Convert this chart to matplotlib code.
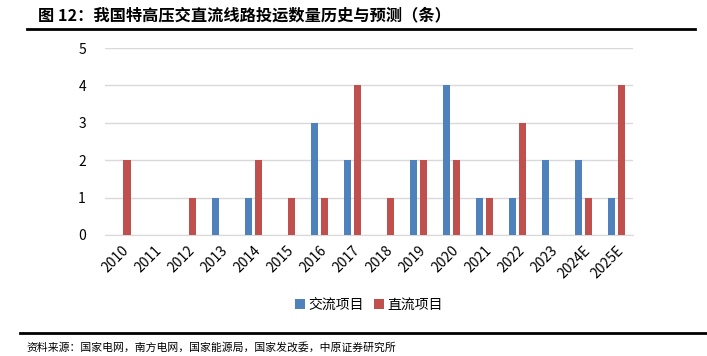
import matplotlib
matplotlib.use("Agg")
import matplotlib.pyplot as plt
import numpy as np
from matplotlib.lines import Line2D

plt.rcParams['font.family'] = ['Noto Sans CJK SC', 'DejaVu Sans']

years = ["2010", "2011", "2012", "2013", "2014", "2015", "2016", "2017",
         "2018", "2019", "2020", "2021", "2022", "2023", "2024E", "2025E"]
ac = [0, 0, 0, 1, 1, 0, 3, 2, 0, 2, 4, 1, 1, 2, 2, 1]
dc = [2, 0, 1, 0, 2, 1, 1, 4, 1, 2, 2, 1, 3, 0, 1, 4]
series_names = ["交流项目", "直流项目"]
title = "图 12：我国特高压交直流线路投运数量历史与预测（条）"
source = "资料来源：国家电网，南方电网，国家能源局，国家发改委，中原证券研究所"

blue = "#4F81BD"
red = "#C0504D"

fig = plt.figure(figsize=(7.07, 3.56), dpi=100)
ax = fig.add_axes([0.149, 0.34, 0.746, 0.525])

x = np.arange(len(years))
w = 0.22
off = 0.155
ax.bar(x - off, ac, width=w, color=blue, label=series_names[0], zorder=3)
ax.bar(x + off, dc, width=w, color=red, label=series_names[1], zorder=3)

ax.set_xlim(-0.5, len(years) - 0.5)
ax.set_ylim(0, 5)
ax.set_yticks(range(0, 6))
ax.yaxis.grid(True, color="#D9D9D9", linewidth=1, zorder=0)
ax.set_axisbelow(True)
for s in ["top", "right", "left"]:
    ax.spines[s].set_visible(False)
ax.spines["bottom"].set_color("#D9D9D9")
ax.tick_params(axis="both", length=0, labelsize=10, colors="black")
ax.tick_params(axis="y", pad=14)
ax.set_xticks(x)
ax.set_xticklabels(years, rotation=45, ha="right", rotation_mode="anchor")
ax.tick_params(axis="x", pad=6)

ax.legend(loc="center", bbox_to_anchor=(0.5, -0.375), ncol=2, frameon=False,
          fontsize=10, handlelength=0.7, handleheight=0.7, handletextpad=0.3,
          columnspacing=0.7)

fig.text(0.054, 0.957, title, fontsize=11.7, fontweight="bold", va="center", ha="left")
fig.add_artist(Line2D([0.038, 0.983], [0.918, 0.918], color="black", linewidth=2,
                      transform=fig.transFigure))
fig.add_artist(Line2D([0.028, 1.0], [0.065, 0.065], color="black", linewidth=2,
                      transform=fig.transFigure))
fig.text(0.038, 0.025, source, fontsize=7.8, va="center", ha="left")

fig.savefig("out.png", dpi=100)
